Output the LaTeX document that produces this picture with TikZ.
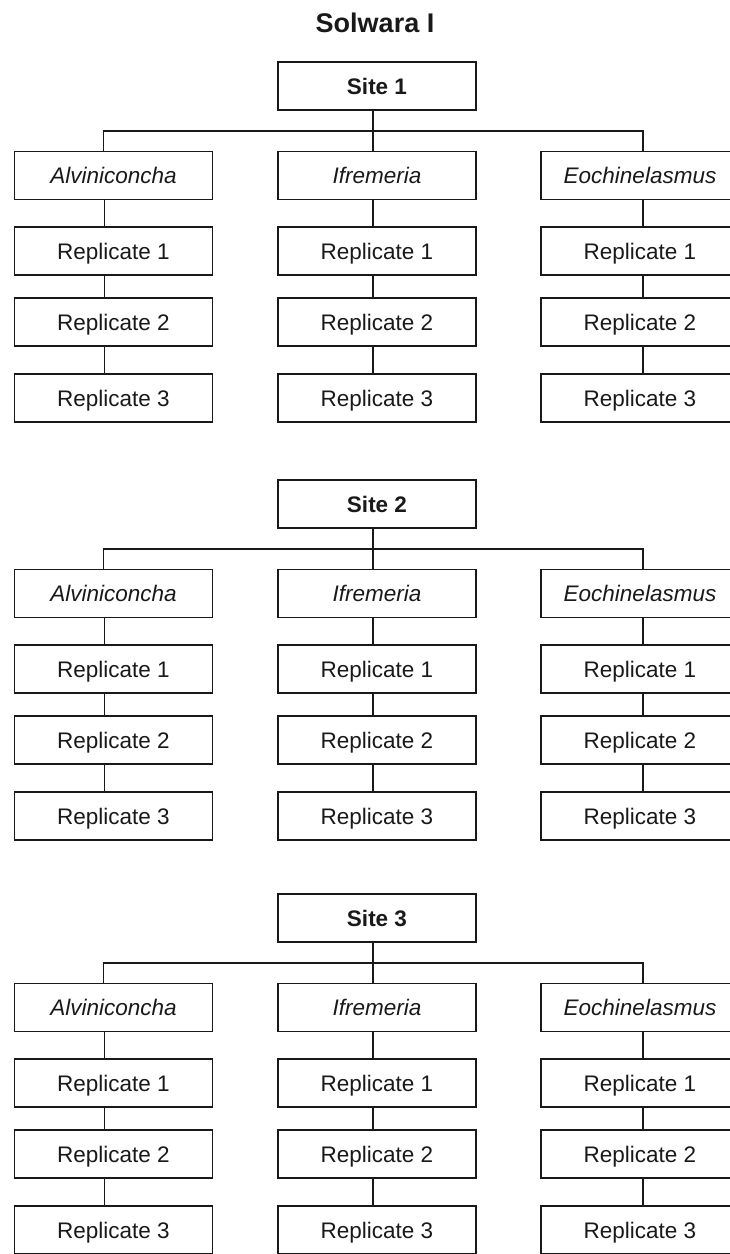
\documentclass[tikz,border=0pt]{standalone}
\usepackage{fontspec}
\setmainfont{Liberation Sans}
\begin{document}
\begin{tikzpicture}[x=1pt,y=-1pt,
  boxbase/.style={draw=black!90, line width=1.8pt, rectangle, inner sep=0pt,
    minimum width=198pt, minimum height=48pt, text height=16pt, text depth=0pt,
    font=\fontsize{22.5}{26}\selectfont, text=black!90},
  sitebox/.style={boxbase, font=\fontsize{22.5}{26}\selectfont\bfseries},
  spbox/.style={boxbase, font=\fontsize{22.5}{26}\selectfont\itshape},
  repbox/.style={boxbase},
  link/.style={draw=black!90, line width=1.8pt}]
\useasboundingbox (0,0) rectangle (730,1254);
\node[font=\fontsize{27}{32}\selectfont\bfseries, text=black!90, inner sep=0pt, text height=19pt, text depth=0pt] (title) at (375,23) {Solwara I};
\foreach \k/\off in {1/0, 2/418, 3/832} {
  \node[sitebox] (S\k) at (377, 86+\off) {Site \k};
  \coordinate (bar\k) at (0, 131+\off);
  \node[spbox] (A\k) at (113.5, 175.5+\off) {Alviniconcha};
  \node[spbox] (I\k) at (377, 175.5+\off) {Ifremeria};
  \node[spbox] (E\k) at (640, 175.5+\off) {Eochinelasmus};
  \draw[link] ([xshift=-4pt]S\k.south) -- ([xshift=-4pt]S\k.south |- bar\k);
  \draw[link] ([xshift=-10pt]A\k.north) -- ([xshift=-10pt]A\k.north |- bar\k)
     -- ([xshift=3pt]E\k.north |- bar\k) -- ([xshift=3pt]E\k.north);
  \draw[link] ([xshift=-4pt]I\k.north) -- ([xshift=-4pt]I\k.north |- bar\k);
  \foreach \col/\cx/\dx in {A/113.5/-9, I/377/-4, E/640/3} {
    \node[repbox] (\col\k r1) at (\cx, 251+\off) {Replicate 1};
    \node[repbox] (\col\k r2) at (\cx, 322+\off) {Replicate 2};
    \node[repbox] (\col\k r3) at (\cx, 398+\off) {Replicate 3};
    \draw[link] ([xshift=\dx pt]\col\k.south) -- ([xshift=\dx pt]\col\k r1.north);
    \draw[link] ([xshift=\dx pt]\col\k r1.south) -- ([xshift=\dx pt]\col\k r2.north);
    \draw[link] ([xshift=\dx pt]\col\k r2.south) -- ([xshift=\dx pt]\col\k r3.north);
  }
}
\end{tikzpicture}
\end{document}
